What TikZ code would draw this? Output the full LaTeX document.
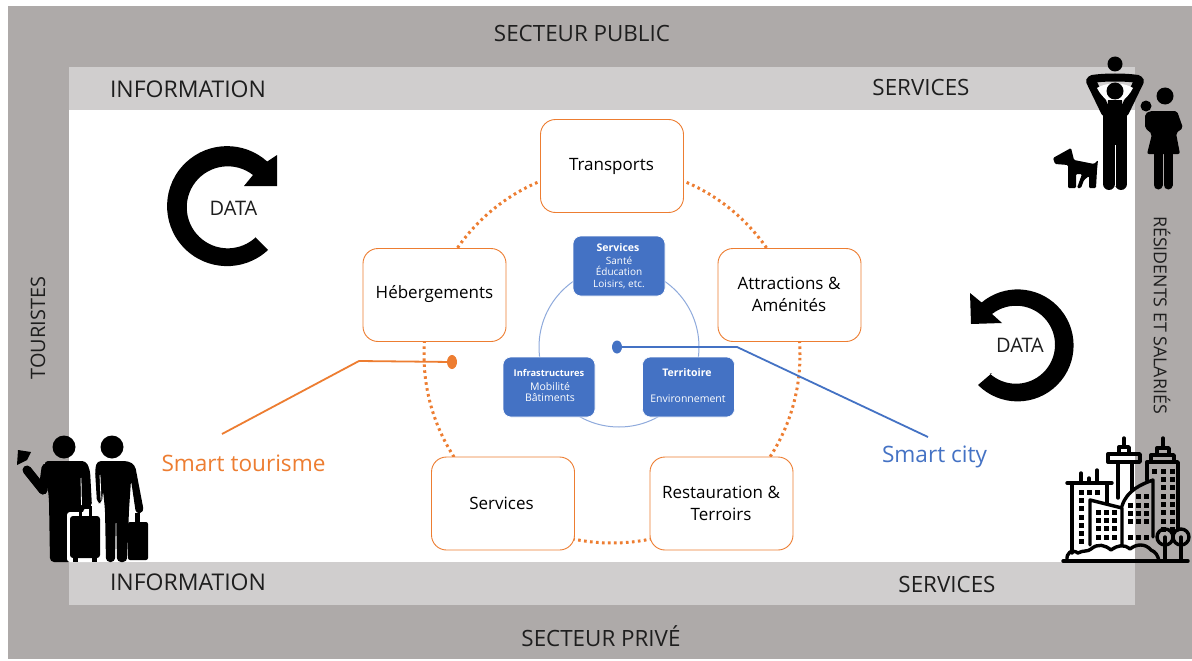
\documentclass[tikz,border=0pt]{standalone}
\usepackage{fontspec}
\usetikzlibrary{shapes.geometric}
\setmainfont{Open Sans}
\definecolor{outergray}{HTML}{AEAAA9}
\definecolor{lightgray}{HTML}{D0CECE}
\definecolor{orangeline}{HTML}{ED7D31}
\definecolor{blueline}{HTML}{4472C4}
\definecolor{ringblue}{HTML}{8FAADC}
\definecolor{inktext}{HTML}{1E1E1E}
\newcommand{\fsz}[1]{\fontsize{#1}{#1}\selectfont}
\tikzset{
 bandlabel/.style={text=inktext,font=\fsz{22.4},inner sep=0pt},
 catbox/.style={draw=orangeline,line width=0.9pt,fill=white,rounded corners=15pt,minimum width=143pt,minimum height=93pt,inner sep=0pt},
 cattext/.style={align=center,text=black,font=\fsz{17},inner sep=0pt},
 citybox/.style={draw=white,line width=0.6pt,fill=blueline,rounded corners=8pt,minimum width=92pt,minimum height=60pt,inner sep=0pt},
 citytext/.style={text=white,align=center,font=\fsz{10},inner sep=0pt},
 icon/.style={line width=#1,line cap=round,line join=round,black},
 icon/.default=3.4pt,
 smarttext/.style={font=\fsz{22.6},inner sep=0pt},
}
\begin{document}
\begin{tikzpicture}[x=1pt,y=1pt,yscale=-1]
\useasboundingbox (0,0) rectangle (1192,661);
\fill[white] (0,0) rectangle (1192,661);
\fill[outergray] (8,6) rectangle (1192,659);
\fill[lightgray] (69,67) rectangle (1135,605);
\fill[white] (69,110) rectangle (1135,562);
% bands
\node[bandlabel] (pub) at (582,33) {SECTEUR PUBLIC};
\node[bandlabel] (priv) at (601,636) {SECTEUR PRIVÉ};
\node[bandlabel,font=\fsz{23}] (info1) at (188,89) {INFORMATION};
\node[bandlabel,font=\fsz{23}] (info2) at (188,582) {INFORMATION};
\node[bandlabel] (serv1) at (921,87) {SERVICES};
\node[bandlabel] (serv2) at (947,584) {SERVICES};
\node[bandlabel,font=\fsz{19.9},rotate=90] (tour) at (38,328) {TOURISTES};
\node[bandlabel,font=\fsz{17.8},rotate=-90] (resid) at (1162,315) {RÉSIDENTS ET SALARIÉS};
% rings
\node[circle,draw=orangeline,line width=3pt,dash pattern=on 2.6pt off 3.4pt,minimum size=376pt,inner sep=0pt] (outerring) at (612,355) {};
\node[circle,draw=ringblue,line width=1pt,minimum size=160pt,inner sep=0pt] (innerring) at (619,347) {};
% category boxes
\node[catbox] (transports) at (612,166) {};
\node[cattext] (ltransports) at (611.5,166.5) {Transports};
\node[catbox] (heberg) at (434.5,295) {};
\node[cattext] (lheberg) at (434.5,294.5) {Hébergements};
\node[catbox] (attr) at (789.5,295) {};
\node[cattext] (lattr) at (789,294) {Attractions \&\\[5pt]Aménités};
\node[catbox] (servc) at (503,503.5) {};
\node[cattext] (lservc) at (501.5,503) {Services};
\node[catbox] (resto) at (721.5,503.5) {};
\node[cattext] (lresto) at (721,503) {Restauration \&\\[5pt]Terroirs};
% city boxes
\node[citybox] (cserv) at (619,266) {};
\node[citybox] (cinfra) at (549,387) {};
\node[citybox] (cterr) at (688.5,387) {};
\node[citytext,font=\fsz{10.5}\bfseries] (t1) at (618,248) {Services};
\node[citytext] (t2) at (619,272.5) {Santé\\[1.4pt]Éducation\\[1.4pt]Loisirs, etc.};
\node[citytext,font=\fsz{9.3}\bfseries] (t3) at (549,372.5) {Infrastructures};
\node[citytext,font=\fsz{10.5}] (t4) at (550,392) {Mobilité\\[1pt]Bâtiments};
\node[citytext,font=\fsz{10.5}\bfseries] (t5) at (687,372.5) {Territoire};
\node[citytext,font=\fsz{10.5}] (t6) at (688,399) {Environnement};
% smart connectors
\node[ellipse,fill=orangeline,minimum width=10pt,minimum height=14pt,inner sep=0pt] (dotO) at (452,362) {};
\node[ellipse,fill=blueline,minimum width=10pt,minimum height=13pt,inner sep=0pt] (dotB) at (617,347) {};
\coordinate (kneeO) at (359,361);
\coordinate (endO) at (222,434);
\coordinate (kneeB) at (737,347);
\coordinate (endB) at (928,437);
\draw[orangeline,line width=1.8pt,line join=round] (dotO) -- (kneeO) -- (endO);
\draw[blueline,line width=1.8pt,line join=round] (dotB) -- (kneeB) -- (endB);
\node[smarttext,text=orangeline] (stour) at (243.5,463) {Smart tourisme};
\node[smarttext,text=blueline] (scity) at (934.5,456.5) {Smart city};
% DATA arrows
\fill[black] (256,238) -- (268,250) arc[start angle=47,end angle=312,radius=60pt] -- (277,155) -- (277,186) -- (244,186) -- (253,175) arc[start angle=308,end angle=47,radius=41pt] -- cycle;
\node[inner sep=0pt,font=\fsz{20},text=inktext] (d1) at (233.5,208.5) {DATA};
\fill[black] (992,373) -- (978,385) arc[start angle=135,end angle=-130,radius=56pt] -- (970,293) -- (971,324) -- (1002,323) -- (992,314) arc[start angle=-128,end angle=132,radius=39pt] -- cycle;
\node[inner sep=0pt,font=\fsz{20},text=inktext] (d2) at (1020,345.5) {DATA};
% family icon
\draw[icon=10pt] (1091,81) -- (1106,112);
\draw[icon=10pt] (1139,81) -- (1124,112);
\draw[icon=8pt] (1092,79) .. controls (1105,77) and (1125,77) .. (1138,79);
\fill[white] (1097,88) .. controls (1106,82) and (1124,82) .. (1133,88) .. controls (1130,94) and (1126,98) .. (1122,101) -- (1108,101) .. controls (1104,98) and (1100,94) .. (1097,88) -- cycle;
\fill[black] (1115,64) circle[radius=7.5pt];
\fill[black] (1115,91) circle[radius=8.5pt];
\fill[black] (1103,106) -- (1127,106) -- (1127,145) -- (1103,145) -- cycle;
\fill[black] (1108,100) rectangle (1122,110);
\draw[icon=12pt] (1109,140) -- (1109,184);
\draw[icon=12pt] (1121,140) -- (1121,184);
\fill[white] (1114.5,145) rectangle (1115.5,186);
% dog
\fill[black,rounded corners=1.2pt] (1053,158) -- (1071,148) -- (1074,160) -- (1094,164) -- (1098,160) -- (1097,170) -- (1096,188) -- (1089,188) -- (1089,176) -- (1084,180) -- (1081,188) -- (1077,188) -- (1082,174) -- (1076,174) -- (1076,188) -- (1068,188) -- (1068,165) -- (1055,164) -- cycle;
% woman and baby
\fill[black] (1165,96) circle[radius=8.5pt];
\fill[black] (1146,106) circle[radius=5.5pt];
\fill[black,rounded corners=2pt] (1150,111) -- (1177,111) -- (1183,128) -- (1176,133) -- (1180,154) -- (1147,154) -- (1152,134) -- (1145,128) -- (1145,114) -- cycle;
\draw[icon=9pt] (1158,150) -- (1158,185);
\draw[icon=9pt] (1168,150) -- (1168,185);
% tourists
\fill[black] (64,447) circle[radius=11.5pt];
\fill[black] (112,447) circle[radius=11.5pt];
\fill[black] (18,450) -- (31,452) -- (27,460) -- (17,465) -- cycle;
\draw[icon=9pt] (27,470) -- (43,490);
\draw[icon=9pt] (43,490) -- (46,468);
\fill[black,rounded corners=4pt] (44,461) -- (86,461) -- (90,470) -- (92,507) -- (84,507) -- (82,518) -- (72,518) -- (72,562) -- (50,562) -- (49,500) -- (46,470) -- cycle;
\draw[white,line width=0.8pt] (81,478) -- (81.5,505);
\fill[white,rounded corners=3pt] (67,512) rectangle (102,562);
\draw[icon=10pt] (56,510) -- (56,557);
\fill[black,rounded corners=3pt] (70,516) rectangle (100,558);
\fill[black] (73,558) rectangle (78,562);
\fill[black] (92,558) rectangle (97,562);
\draw[black,line width=3pt] (80,516) -- (80,507) -- (90,507) -- (90,516);
\fill[black,rounded corners=4pt] (97,461) -- (128,461) -- (135,465) -- (144,512) -- (136,514) -- (131,480) -- (129,510) -- (127,562) -- (117,562) -- (116,510) -- (115,562) -- (106,562) -- (105,510) -- (103,490) -- (102,503) -- (97,503) -- (95,470) -- cycle;
\draw[white,line width=0.8pt] (100,475) -- (101,500);
\fill[black,rounded corners=2pt] (128,522) rectangle (148,560);
\fill[black] (135,513) rectangle (140,522);
% city icon
\draw[icon] (1063,561) -- (1188,561);
\draw[icon] (1067,483) -- (1112,483);
\draw[icon] (1072,483) -- (1072,553);
\draw[icon] (1081,473) -- (1081,483);
\draw[icon] (1089,478) -- (1089,483);
\draw[icon] (1097,470) -- (1097,483);
\draw[icon] (1107,483) -- (1107,503);
\draw[icon] (1090,545) -- (1090,500) -- (1122,508) -- (1122,545);
\draw[icon] (1122,506) .. controls (1127,490) and (1142,484) .. (1153,480) -- (1153,537);
\draw[icon] (1108,454) rectangle (1140,462);
\draw[icon] (1118,462) -- (1118,498);
\draw[icon] (1132,462) -- (1132,490);
\draw[icon] (1124,438) -- (1124,446);
\draw[icon] (1119,447) rectangle (1129,454);
\draw[icon] (1147,480) -- (1147,462) -- (1178,462) -- (1178,530);
\draw[icon] (1151,462) -- (1151,455) -- (1174,455) -- (1174,462);
\draw[icon] (1163,438) -- (1163,447);
\draw[icon] (1157,455) -- (1157,448) -- (1169,448) -- (1169,455);
\draw[icon] (1067,561) .. controls (1066,552) and (1072,549) .. (1078,553) .. controls (1083,550) and (1088,552) .. (1091,549) .. controls (1098,543) and (1105,545) .. (1111,550) .. controls (1118,545) and (1124,544) .. (1130,549) .. controls (1136,544) and (1145,543) .. (1151,550) .. controls (1156,552) and (1158,556) .. (1159,561);
\draw[icon] (1165,537) circle[radius=8pt];
\draw[icon] (1181,537) circle[radius=8pt];
\draw[icon] (1165,537) -- (1165,561);
\draw[icon] (1181,537) -- (1181,561);
\foreach \xx in {1081,1089,1097} \fill[black] (\xx-2.5,489.5) rectangle (\xx+2.5,494.5);
\foreach \yy in {500,508,517,525,533,541} \fill[black] (1078.5,\yy-2.5) rectangle (1083.5,\yy+2.5);
\foreach \xx in {1098,1106,1114} \foreach \yy in {512,520,528,537} \fill[black] (\xx-2.5,\yy-2.5) rectangle (\xx+2.5,\yy+2.5);
\foreach \xx in {1130,1138,1146} \foreach \yy in {505,513,521,537} \fill[black] (\xx-2.5,\yy-2.5) rectangle (\xx+2.5,\yy+2.5);
\foreach \xx in {1138,1146} \fill[black] (\xx-2.5,493.5) rectangle (\xx+2.5,498.5);
\foreach \xx in {1154,1163,1172} \fill[black] (\xx-2.5,468.5) rectangle (\xx+2.5,473.5);
\foreach \xx in {1163,1172} \foreach \yy in {479,487,496,504,512,521,529} \fill[black] (\xx-2.5,\yy-2.5) rectangle (\xx+2.5,\yy+2.5);
\end{tikzpicture}
\end{document}
